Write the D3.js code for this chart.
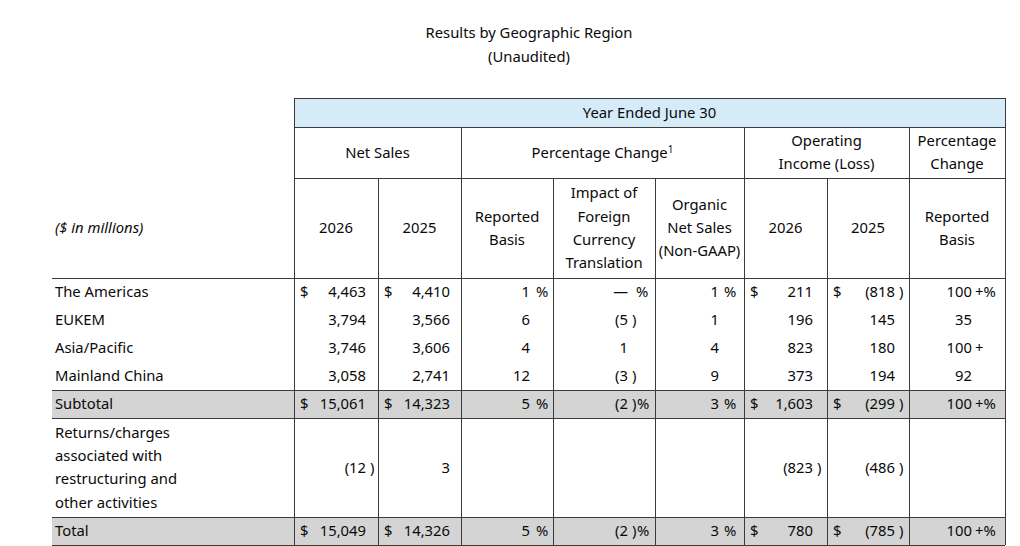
<!DOCTYPE html>
<html><head><meta charset="utf-8">
<script src="https://cdn.jsdelivr.net/npm/d3@7/dist/d3.min.js"></script>
<style>
body{margin:0;background:#fff;}
text{font-family:"Noto Sans",sans-serif;font-size:14.8px;fill:#0a0a0a;}
</style>
</head><body>
<svg id="c" width="1020" height="546"></svg>
<script>
// ---------- data ----------
const titleLines = ["Results by Geographic Region", "(Unaudited)"];
const topHeader = "Year Ended June 30";
const unitLabel = "($ in millions)";
const groupHeaders = [
  {lines: ["Net Sales"], span: 2},
  {lines: ["Percentage Change"], sup: "1", span: 3},
  {lines: ["Operating", "Income (Loss)"], span: 2},
  {lines: ["Percentage", "Change"], span: 1}
];
const columnHeaders = [["2026"], ["2025"], ["Reported", "Basis"], ["Impact of", "Foreign", "Currency", "Translation"],
  ["Organic", "Net Sales", "(Non-GAAP)"], ["2026"], ["2025"], ["Reported", "Basis"]];
// column kinds: currency / percent / change
const columnKinds = ["cur", "cur", "pct", "pct", "pct", "cur", "cur", "chg"];

const regions = ["The Americas", "EUKEM", "Asia/Pacific", "Mainland China"];
const netSales2026 = [4463, 3794, 3746, 3058];
const netSales2025 = [4410, 3566, 3606, 2741];
const reportedPct = [1, 6, 4, 12];
const fxImpactPct = [0, -5, 1, -3];
const organicPct = [1, 1, 4, 9];
const opIncome2026 = [211, 196, 823, 373];
const opIncome2025 = [-818, 145, 180, 194];
const opChangePct = [100, 35, 100, 92];
const opChangeOver = [true, false, true, false];

const subtotalLabel = ["Subtotal"];
const subtotalValues = [15061, 14323, 5, -2, 3, 1603, -299, 100];
const subtotalOver = true;

const returnsLabel = ["Returns/charges", "associated with", "restructuring and", "other activities"];
const returnsValues = [-12, 3, null, null, null, -823, -486, null];

const totalLabel = ["Total"];
const totalValues = [15049, 14326, 5, -2, 3, 780, -785, 100];
const totalOver = true;

// ---------- rows ----------
const rows = regions.map((r, i) => ({
  label: [r],
  values: [netSales2026[i], netSales2025[i], reportedPct[i], fxImpactPct[i], organicPct[i], opIncome2026[i], opIncome2025[i], opChangePct[i]],
  over: opChangeOver[i], symbols: i === 0, shade: false
}));
rows.push({label: subtotalLabel, values: subtotalValues, over: subtotalOver, symbols: true, shade: true});
rows.push({label: returnsLabel, values: returnsValues, over: false, symbols: false, shade: false});
rows.push({label: totalLabel, values: totalValues, over: totalOver, symbols: true, shade: true});

// ---------- layout ----------
const colW = [84, 83, 92, 102, 89, 83, 82, 96];
const colEdges = [0, ...d3.cumsum(colW)];
const x = d3.scaleLinear().domain([0, d3.sum(colW)]).range([294, 1005]);
const headH = [29, 51, 100];
const bodyH = [28, 28, 28, 28, 28, 99, 28];
const allH = headH.concat(bodyH);
const yEdges = [0, ...d3.cumsum(allH)];
const y = d3.scaleLinear().domain([0, d3.sum(allH)]).range([98, 545]);
const leftX = 52, labelX = 55, lineH = 23.3;
// per column: number right padding, suffix start padding
const numPad = [12, 11, 23, 27, 25, 14, 14, 33];
const sufPad = [0, 0, 17, 19, 20, 0, 0, 30];

const svg = d3.select("#c");
const fmt = d3.format(",");
const lineColor = "#3a3a3a";

function multi(g, lines, cx, cy, anchor) {
  const t = g.append("text").attr("text-anchor", anchor || "middle");
  lines.forEach((l, i) => {
    t.append("tspan").attr("x", cx).attr("y", cy + (i - (lines.length - 1) / 2) * lineH).attr("dy", "0.35em").text(l);
  });
  return t;
}

// title
titleLines.forEach((t, i) => {
  svg.append("text").attr("x", 529).attr("y", 33 + i * 24).attr("dy", "0.35em").attr("text-anchor", "middle").text(t);
});

// backgrounds
svg.append("rect").attr("x", x(0)).attr("y", y(yEdges[0])).attr("width", x(colEdges[8]) - x(0))
  .attr("height", y(yEdges[1]) - y(yEdges[0])).attr("fill", "#d5ebf8");
rows.forEach((r, i) => {
  if (!r.shade) return;
  svg.append("rect").attr("x", leftX).attr("y", y(yEdges[3 + i])).attr("width", x(colEdges[8]) - leftX)
    .attr("height", y(yEdges[4 + i]) - y(yEdges[3 + i])).attr("fill", "#d4d4d4");
});

// lines
const L = svg.append("g").attr("stroke", lineColor).attr("stroke-width", 1).attr("shape-rendering", "crispEdges");
[0, 1, 2].forEach(k => L.append("line").attr("x1", x(0)).attr("x2", x(colEdges[8])).attr("y1", y(yEdges[k])).attr("y2", y(yEdges[k])));
[3, 7, 8, 9, 10].forEach(k => L.append("line").attr("x1", leftX).attr("x2", x(colEdges[8])).attr("y1", y(yEdges[k])).attr("y2", y(yEdges[k])));
[0, 8].forEach(c => L.append("line").attr("x1", x(colEdges[c])).attr("x2", x(colEdges[c])).attr("y1", y(yEdges[0])).attr("y2", y(yEdges[10])));
[2, 5, 7].forEach(c => L.append("line").attr("x1", x(colEdges[c])).attr("x2", x(colEdges[c])).attr("y1", y(yEdges[1])).attr("y2", y(yEdges[10])));
[1, 3, 4, 6].forEach(c => L.append("line").attr("x1", x(colEdges[c])).attr("x2", x(colEdges[c])).attr("y1", y(yEdges[2])).attr("y2", y(yEdges[10])));

// headers
const H = svg.append("g");
H.append("text").attr("x", (x(0) + x(colEdges[8])) / 2).attr("y", (y(yEdges[0]) + y(yEdges[1])) / 2)
  .attr("dy", "0.35em").attr("text-anchor", "middle").text(topHeader);
let ci = 0;
const cy1 = (y(yEdges[1]) + y(yEdges[2])) / 2;
groupHeaders.forEach(g => {
  const cx = (x(colEdges[ci]) + x(colEdges[ci + g.span])) / 2;
  const t = multi(H, g.lines, cx, cy1);
  if (g.sup) t.select("tspan").append("tspan").attr("dy", "-0.45em").attr("font-size", "10px").text(g.sup);
  ci += g.span;
});
const cy2 = (y(yEdges[2]) + y(yEdges[3])) / 2;
columnHeaders.forEach((h, c) => multi(H, h, (x(colEdges[c]) + x(colEdges[c + 1])) / 2, cy2));
H.append("text").attr("x", labelX).attr("y", cy2).attr("dy", "0.35em").attr("font-style", "italic").text(unitLabel);

// body
const B = svg.append("g");
rows.forEach((r, i) => {
  const cy = (y(yEdges[3 + i]) + y(yEdges[4 + i])) / 2;
  multi(B, r.label, labelX, cy, "start");
  r.values.forEach((v, c) => {
    if (v === null) return;
    const left = x(colEdges[c]), right = x(colEdges[c + 1]);
    const kind = columnKinds[c];
    const numEnd = right - numPad[c];
    const txt = v === 0 ? "\u2014" : (v < 0 ? "(" + fmt(-v) : fmt(v));
    B.append("text").attr("x", numEnd).attr("y", cy).attr("dy", "0.35em").attr("text-anchor", "end").text(txt);
    if (v < 0) B.append("text").attr("x", numEnd + 4).attr("y", cy).attr("dy", "0.35em").text(")");
    if (kind === "cur" && r.symbols) {
      B.append("text").attr("x", left + 6).attr("y", cy).attr("dy", "0.35em").text("$");
    }
    if (kind === "pct" && r.symbols) {
      const sx = v < 0 ? numEnd + 9 : right - sufPad[c];
      B.append("text").attr("x", sx).attr("y", cy).attr("dy", "0.35em").text("%");
    }
    if (kind === "chg") {
      const suf = (r.over ? "+" : "") + (r.symbols ? "%" : "");
      if (suf) B.append("text").attr("x", right - sufPad[c]).attr("y", cy).attr("dy", "0.35em").text(suf);
    }
  });
});
</script>
</body></html>
